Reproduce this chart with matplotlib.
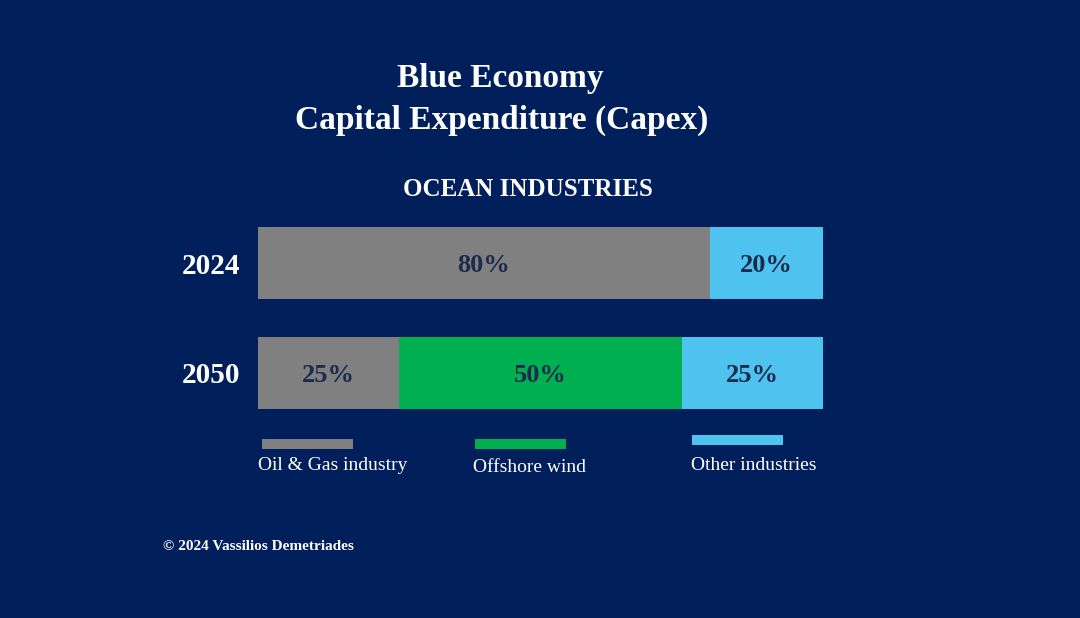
import numpy as np
import matplotlib
matplotlib.use("Agg")
import matplotlib.pyplot as plt
from matplotlib.patches import Rectangle

plt.rcParams["font.family"] = ["Liberation Serif", "DejaVu Serif"]

# data
years = ["2024", "2050"]
segments = ["Oil & Gas industry", "Offshore wind", "Other industries"]
shares = {
    "Oil & Gas industry": [80, 25],
    "Offshore wind": [0, 50],
    "Other industries": [20, 25],
}
colors = {
    "Oil & Gas industry": "#808080",
    "Offshore wind": "#00b050",
    "Other industries": "#4fc3ef",
}

BG = "#001f5b"
LABEL_DARK = "#1c2b4c"
W, H = 1080, 618

fig = plt.figure(figsize=(W / 100, H / 100), dpi=100, facecolor=BG)


def fx(px):
    return px / W


def fy(py):
    return 1 - py / H


# bar axes: bar centres 110 px apart, bar height 72 px
ax = fig.add_axes([fx(258), fy(409), fx(565), (409 - 227) / H])
ax.set_facecolor(BG)
ypos = np.array([1, 0])  # 2024 on top
left = np.zeros(len(years))
for seg in segments:
    vals = np.array(shares[seg], dtype=float)
    ax.barh(ypos, vals, left=left, height=0.655, color=colors[seg],
            edgecolor="none")
    for y, l, v in zip(ypos, left, vals):
        if v > 0:
            ax.text(l + v / 2, y - 0.02, f"{v:.0f}%", ha="center",
                    va="center", fontsize=19, fontweight="bold",
                    color=LABEL_DARK)
    left += vals

ax.set_xlim(0, 100)
ax.set_ylim(-0.3275, 1.3275)
ax.set_yticks(ypos)
ax.set_yticklabels(years, fontsize=21, fontweight="bold", color="white")
ax.tick_params(axis="y", length=0, pad=13)
ax.set_xticks([])
for s in ax.spines.values():
    s.set_visible(False)

# titles
fig.text(fx(500), fy(79), "Blue Economy", ha="center", va="center",
         fontsize=24, fontweight="bold", color="white")
fig.text(fx(502), fy(120), "Capital Expenditure (Capex)", ha="center",
         va="center", fontsize=24, fontweight="bold", color="white")
fig.text(fx(528), fy(190), "OCEAN INDUSTRIES", ha="center", va="center",
         fontsize=18, fontweight="bold", color="white")

# legend: swatch above label
legend_pos = [(262, 439, 258, 466), (475, 439, 473, 468), (692, 435, 691, 466)]
for seg, (sx, sy, tx, ty) in zip(segments, legend_pos):
    fig.patches.append(Rectangle((fx(sx), fy(sy + 10)), fx(91), 10 / H,
                                 transform=fig.transFigure,
                                 facecolor=colors[seg], edgecolor="none"))
    fig.text(fx(tx), fy(ty), seg, ha="left", va="center", fontsize=14,
             color="white")

fig.text(fx(163), fy(546), "\u00a9 2024 Vassilios Demetriades", ha="left",
         va="center", fontsize=11, fontweight="bold", color="white")

fig.savefig("out.png", dpi=100, facecolor=BG)
